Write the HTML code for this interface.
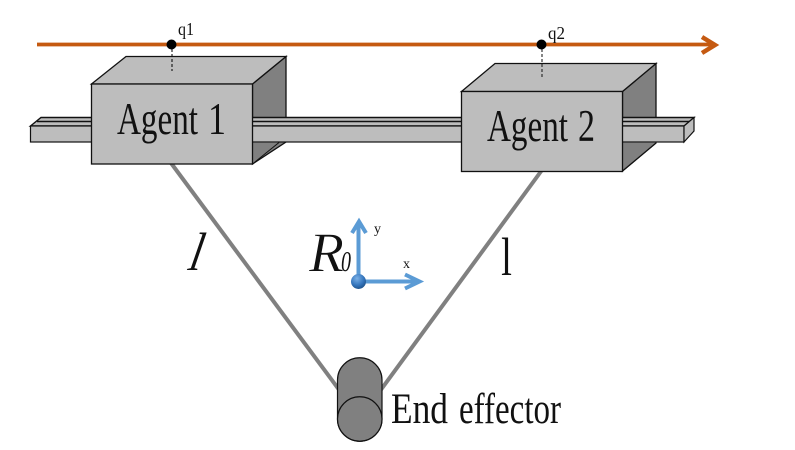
<!DOCTYPE html>
<html><head><meta charset="utf-8"><style>
html,body{margin:0;padding:0;background:#fff;width:795px;height:450px;overflow:hidden}
svg{display:block}
text{font-family:"Liberation Serif",serif;fill:#111}
</style></head><body>
<svg width="795" height="450" viewBox="0 0 795 450" xmlns="http://www.w3.org/2000/svg">
<defs><radialGradient id="b" cx="40%" cy="30%" r="75%"><stop offset="0" stop-color="#7ab0e6"/><stop offset="0.6" stop-color="#3576bd"/><stop offset="1" stop-color="#1d4f86"/></radialGradient></defs>
<!-- links -->
<line x1="171" y1="163" x2="340" y2="391" stroke="#808080" stroke-width="4"/>
<line x1="542" y1="170" x2="380" y2="391" stroke="#808080" stroke-width="4"/>
<!-- box sides -->
<polygon points="252.5,84 286,56.5 286,142 252.5,164" fill="#808080" stroke="#111" stroke-width="1.3"/>
<polygon points="622.5,91.5 656,63.5 656,143 622.5,171" fill="#808080" stroke="#111" stroke-width="1.3"/>
<!-- rail -->
<polygon points="30.5,126 41,117.5 694,117.5 684,126" fill="#bdbdbd" stroke="#111" stroke-width="1.4"/>
<line x1="37" y1="121.5" x2="689" y2="121.5" stroke="#111" stroke-width="1.6"/>
<rect x="30.5" y="126" width="653.5" height="16" fill="#bdbdbd" stroke="#111" stroke-width="1.2"/>
<polygon points="684,126 694,117.5 694,131 684,142" fill="#bdbdbd" stroke="#111" stroke-width="1.2"/>
<!-- agent 1 -->
<polygon points="91.5,84 126,56.5 286,56.5 252.5,84" fill="#bdbdbd" stroke="#111" stroke-width="1.3"/>
<polygon points="252.5,142.6 279,142.6 252.5,164" fill="#808080"/>
<line x1="252.5" y1="164" x2="279" y2="142.5" stroke="#111" stroke-width="1"/>
<rect x="91.5" y="84" width="161" height="80" fill="#bdbdbd" stroke="#111" stroke-width="1.3"/>
<!-- agent 2 -->
<polygon points="461.5,91.5 495,63.5 656,63.5 622.5,91.5" fill="#bdbdbd" stroke="#111" stroke-width="1.3"/>
<polygon points="622.5,142.6 656,142.6 622.5,171" fill="#808080"/>
<line x1="622.5" y1="171" x2="656" y2="143" stroke="#111" stroke-width="1.2"/>
<rect x="461.5" y="91.5" width="161" height="80" fill="#bdbdbd" stroke="#111" stroke-width="1.3"/>
<!-- top line -->
<line x1="37" y1="44.5" x2="714" y2="44.5" stroke="#c55a11" stroke-width="3.8"/>
<polyline points="702,37 715,45 702,53" fill="none" stroke="#c55a11" stroke-width="4.5"/>
<line x1="172" y1="49" x2="172" y2="71" stroke="#111" stroke-width="1.1" stroke-dasharray="3 2"/>
<line x1="542" y1="49" x2="542" y2="78" stroke="#222" stroke-width="1.1" stroke-dasharray="3 2"/>
<circle cx="171.5" cy="44.5" r="5" fill="#000"/>
<circle cx="541.5" cy="44.5" r="5" fill="#000"/>
<text x="178" y="35" font-size="18" textLength="16" lengthAdjust="spacingAndGlyphs">q1</text>
<text x="548" y="39" font-size="18" textLength="17" lengthAdjust="spacingAndGlyphs">q2</text>
<text x="117" y="134" font-size="45" textLength="81" lengthAdjust="spacingAndGlyphs">Agent</text>
<text x="208" y="134" font-size="45" textLength="18" lengthAdjust="spacingAndGlyphs">1</text>
<text x="487" y="141" font-size="45" textLength="81" lengthAdjust="spacingAndGlyphs">Agent</text>
<text x="578" y="141" font-size="45" textLength="17" lengthAdjust="spacingAndGlyphs">2</text>
<!-- axes -->
<line x1="358.5" y1="281" x2="358.5" y2="222" stroke="#5b9bd5" stroke-width="4"/>
<polyline points="352,233 359,221.5 366,233" fill="none" stroke="#5b9bd5" stroke-width="4"/>
<line x1="358" y1="281.5" x2="419" y2="281.5" stroke="#5b9bd5" stroke-width="4"/>
<polyline points="405,274.5 419.5,281.5 405,288.5" fill="none" stroke="#5b9bd5" stroke-width="4"/>
<circle cx="358.5" cy="281.5" r="7.5" fill="url(#b)"/>
<text x="309" y="271" font-size="56" font-style="italic" textLength="35" lengthAdjust="spacingAndGlyphs" stroke="#fff" stroke-width="0.6">R</text>
<text x="341" y="271" font-size="28" font-style="italic" textLength="10" lengthAdjust="spacingAndGlyphs">0</text>
<text x="374" y="233" font-size="14">y</text>
<text x="403" y="268" font-size="14">x</text>
<text transform="translate(192,270) skewX(-19) scale(.8,1)" text-anchor="middle" font-size="54">l</text>
<text transform="translate(506.5,275) scale(.72,1)" text-anchor="middle" font-size="54">l</text>
<!-- end effector -->
<path d="M337.5,380 A22.25,22.25 0 0 1 382,380 V419 A22.25,22.25 0 0 1 337.5,419 Z" fill="#808080" stroke="#111" stroke-width="1.2"/>
<circle cx="359.75" cy="419" r="22.25" fill="#808080" stroke="#111" stroke-width="1.2"/>
<text x="391" y="423" font-size="43" textLength="57" lengthAdjust="spacingAndGlyphs">End</text>
<text x="459" y="423" font-size="43" textLength="102" lengthAdjust="spacingAndGlyphs">effector</text>
</svg>
</body></html>
